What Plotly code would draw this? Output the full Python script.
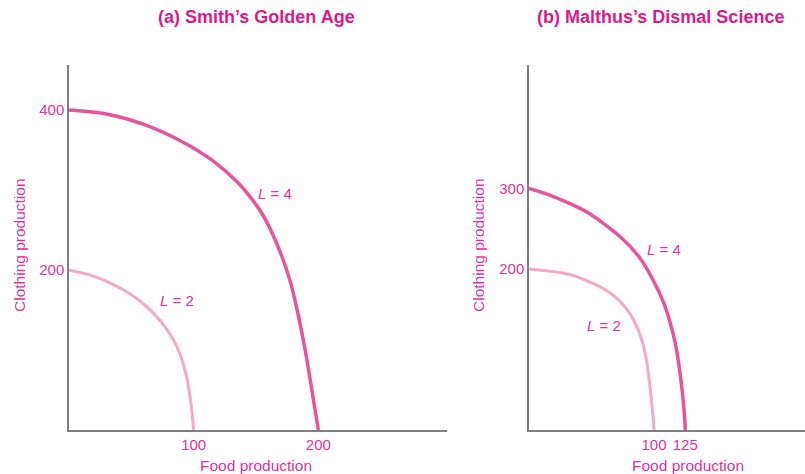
import plotly.graph_objects as go

# ---- data ----
# Panel (a) Smith's Golden Age
a_L4_food = [0, 30, 60, 90, 115, 135, 145, 155, 163, 170, 177, 183, 190, 195, 200]
a_L4_cloth = [400, 395, 382, 361, 337, 310, 292, 270, 246, 220, 188, 150, 95, 48, 0]
a_L2_food = [0, 20, 39, 58, 74, 86, 94, 98, 100]
a_L2_cloth = [200, 192, 179, 160, 135, 106, 69, 31, 0]
# Panel (b) Malthus's Dismal Science
b_L4_food = [0, 19.5, 46, 73, 89, 102, 108, 113, 117, 120, 123, 124.5, 125]
b_L4_cloth = [300, 290, 271, 240, 213, 178, 157, 133, 108, 80, 42, 15, 0]
b_L2_food = [0, 33, 59, 72, 81, 87, 91, 94, 96, 98, 99.5, 100]
b_L2_cloth = [200, 193, 176, 161, 144, 126, 108, 86, 64, 36, 12, 0]

a_xticks = [100, 200]
a_yticks = [200, 400]
b_xticks = [100, 125]
b_yticks = [200, 300]

titles = ["(a) Smith\u2019s Golden Age", "(b) Malthus\u2019s Dismal Science"]
xlabel = "Food production"
ylabel = "Clothing production"
curve_labels = ["<i>L</i> = 4", "<i>L</i> = 2"]

DARK = "#e6549a"
LIGHT = "#f3a9c7"
TEXT = "#e0339a"
TITLE = "#d91b86"
AXIS = "#7f7f7f"
FONT = "Liberation Sans"

fig = go.Figure()
spl = dict(shape="spline", smoothing=0.8)
fig.add_trace(go.Scatter(x=a_L4_food, y=a_L4_cloth, mode="lines", line=dict(color=DARK, width=3.5, **spl), xaxis="x", yaxis="y"))
fig.add_trace(go.Scatter(x=a_L2_food, y=a_L2_cloth, mode="lines", line=dict(color=LIGHT, width=3, **spl), xaxis="x", yaxis="y"))
fig.add_trace(go.Scatter(x=b_L4_food, y=b_L4_cloth, mode="lines", line=dict(color=DARK, width=3.5, **spl), xaxis="x2", yaxis="y2"))
fig.add_trace(go.Scatter(x=b_L2_food, y=b_L2_cloth, mode="lines", line=dict(color=LIGHT, width=3, **spl), xaxis="x2", yaxis="y2"))

W, H = 805, 474
ML, MR, MT, MB = 0, 0, 65, 44
PH = H - MT - MB

def px_x(p):
    return p / W

def px_y(p):
    return (H - MB - p) / PH

ax_common = dict(showline=True, linecolor=AXIS, linewidth=1.5, showgrid=False, zeroline=False,
                 ticks="", tickfont=dict(family=FONT, size=15, color=TEXT), mirror=False)

fig.update_layout(
    width=W, height=H,
    margin=dict(l=ML, r=MR, t=MT, b=MB),
    paper_bgcolor="white", plot_bgcolor="white",
    showlegend=False,
    xaxis=dict(domain=[px_x(69), px_x(447)], range=[0, 303.2], tickvals=a_xticks, anchor="y", **ax_common),
    yaxis=dict(domain=[0, 1], range=[0, 456.25], tickvals=a_yticks, anchor="x", **ax_common),
    xaxis2=dict(domain=[px_x(529), 1.0], range=[0, 220.8], tickvals=b_xticks, anchor="y2", **ax_common),
    yaxis2=dict(domain=[0, 1], range=[0, 453.4], tickvals=b_yticks, anchor="x2", **ax_common),
)

ann = []
for t, cx in zip(titles, [256, 660]):
    ann.append(dict(text="<b>" + t + "</b>", x=px_x(cx), y=px_y(17), xref="paper", yref="paper",
                    showarrow=False, font=dict(family=FONT, size=18, color=TITLE), xanchor="center", yanchor="middle"))
for cx in [256, 688]:
    ann.append(dict(text=xlabel, x=px_x(cx), y=px_y(465), xref="paper", yref="paper", showarrow=False,
                    font=dict(family=FONT, size=15.5, color=TEXT), xanchor="center", yanchor="middle"))
for cx in [19, 478]:
    ann.append(dict(text=ylabel, x=px_x(cx), y=px_y(245), xref="paper", yref="paper", showarrow=False,
                    textangle=-90, font=dict(family=FONT, size=15.5, color=TEXT), xanchor="center", yanchor="middle"))
ann.append(dict(text=curve_labels[0], x=165.6, y=296, xref="x", yref="y", showarrow=False, font=dict(family=FONT, size=15, color=TEXT)))
ann.append(dict(text=curve_labels[1], x=86.4, y=162.5, xref="x", yref="y", showarrow=False, font=dict(family=FONT, size=15, color=TEXT)))
ann.append(dict(text=curve_labels[0], x=108, y=224, xref="x2", yref="y2", showarrow=False, font=dict(family=FONT, size=15, color=TEXT)))
ann.append(dict(text=curve_labels[1], x=60, y=130, xref="x2", yref="y2", showarrow=False, font=dict(family=FONT, size=15, color=TEXT)))
fig.update_layout(annotations=ann)

fig.write_html("out.html", config={"displayModeBar": False})
# remove the default page margin so the figure sits at the top-left corner
with open("out.html", "r", encoding="utf-8") as f:
    html = f.read()
html = html.replace("<head>", "<head><style>html,body{margin:0;padding:0;overflow:hidden;}</style>", 1)
with open("out.html", "w", encoding="utf-8") as f:
    f.write(html)
